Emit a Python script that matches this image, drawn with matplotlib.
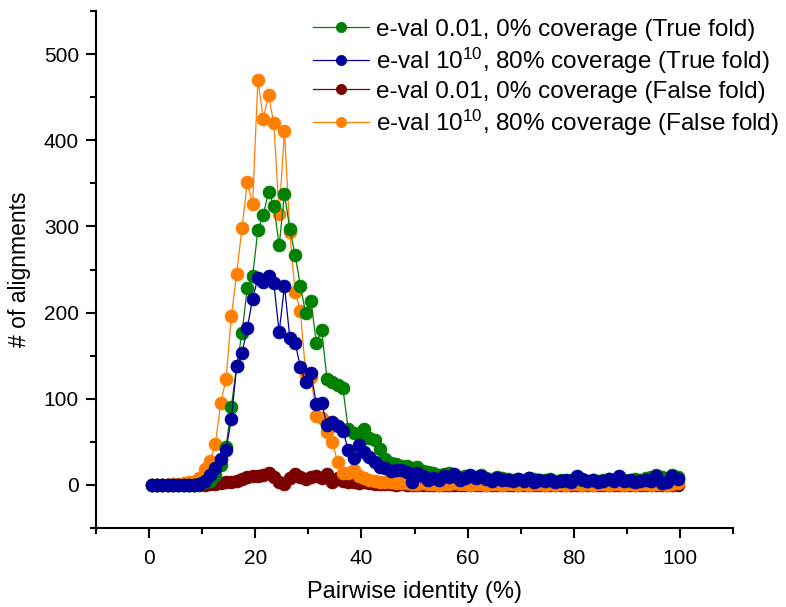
import numpy as np
import matplotlib
matplotlib.use('Agg')
import matplotlib.pyplot as plt
from matplotlib.ticker import FixedLocator

plt.rcParams['font.family'] = ['Liberation Sans', 'DejaVu Sans']
plt.rcParams['mathtext.default'] = 'regular'

# bin centres of pairwise identity (%)
identity = np.arange(100) + 0.5

true_e001 = [0, 0, 0, 0, 0, 0, 0, 0, 0, 1,
             3, 5, 12, 23, 44, 91, 138, 176, 229, 242,
             296, 313, 340, 324, 278, 338, 297, 267, 231, 199,
             213, 165, 180, 123, 120, 116, 112, 65, 60, 58,
             65, 55, 52, 42, 30, 25, 24, 22, 22, 20,
             21, 16, 15, 14, 12, 13, 14, 10, 9, 11,
             10, 9, 12, 8, 7, 9, 8, 7, 6, 7,
             6, 8, 7, 6, 6, 7, 5, 6, 5, 6,
             8, 6, 5, 6, 5, 6, 7, 6, 8, 6,
             5, 7, 6, 8, 9, 12, 9, 5, 12, 9]

true_e1010 = [0, 0, 0, 0, 0, 0, 0, 0, 0, 1,
              5, 12, 20, 30, 41, 77, 138, 153, 182, 216,
              240, 236, 242, 234, 177, 231, 171, 165, 137, 119,
              130, 94, 95, 70, 73, 68, 63, 41, 31, 46,
              38, 33, 27, 21, 20, 16, 17, 17, 15, 4,
              14, 10, 6, 8, 6, 10, 9, 13, 6, 8,
              12, 8, 10, 7, 5, 8, 6, 6, 5, 7,
              5, 8, 4, 6, 5, 6, 4, 5, 6, 4,
              10, 7, 5, 6, 4, 5, 7, 5, 10, 5,
              6, 4, 5, 6, 5, 10, 2, 4, 10, 7]

false_e001 = [0, 0, 0, 0, 0, 0, 0, 0, 0, 0,
              0, 1, 1, 2, 3, 4, 5, 7, 9, 10,
              11, 12, 14, 9, 3, 1, 8, 13, 9, 7,
              9, 10, 8, 13, 3, 8, 5, 3, 4, 2,
              3, 2, 1, 1, 1, 1, 0, 1, 0, 0,
              0, 0, 0, 0, 0, 0, 0, 0, 0, 0,
              0, 0, 0, 0, 0, 0, 0, 0, 0, 0,
              0, 0, 0, 0, 0, 0, 0, 0, 0, 0,
              0, 0, 0, 0, 0, 0, 0, 0, 0, 0,
              0, 0, 0, 0, 0, 0, 0, 0, 0, 0]

false_e1010 = [0, 0, 0, 0, 1, 1, 2, 3, 3, 8,
               19, 28, 48, 95, 123, 196, 245, 298, 351, 326,
               470, 425, 452, 420, 314, 411, 293, 224, 202, 128,
               125, 80, 78, 62, 50, 27, 14, 14, 17, 10,
               8, 6, 5, 4, 3, 3, 2, 2, 2, 1,
               1, 2, 1, 1, 0, 1, 1, 2, 1, 1,
               0, 1, 1, 0, 1, 1, 0, 1, 1, 0,
               1, 0, 1, 1, 0, 1, 0, 1, 0, 1,
               1, 0, 1, 0, 1, 1, 0, 1, 1, 0,
               1, 0, 1, 1, 0, 1, 1, 0, 1, 2]

labels = ['e-val 0.01, 0% coverage (True fold)',
          'e-val 10$^{10}$, 80% coverage (True fold)',
          'e-val 0.01, 0% coverage (False fold)',
          'e-val 10$^{10}$, 80% coverage (False fold)']

fig = plt.figure(figsize=(7.86, 6.07), dpi=100)
ax = fig.add_axes([0.122, 0.130, 0.811, 0.852])

mk = dict(marker='o', markersize=9.3, linewidth=0.9, markeredgewidth=0.5)
l3, = ax.plot(identity, false_e001, color='#7B0000', label=labels[2], zorder=2, **mk)
l4, = ax.plot(identity, false_e1010, color='#FF8000', label=labels[3], zorder=3, **mk)
l1, = ax.plot(identity, true_e001, color='#008000', label=labels[0], zorder=4, **mk)
l2, = ax.plot(identity, true_e1010, color='#00009C', label=labels[1], zorder=5, **mk)

ax.set_xlim(-10, 110)
ax.set_ylim(-50, 550)
ax.xaxis.set_major_locator(FixedLocator([0, 20, 40, 60, 80, 100]))
ax.xaxis.set_minor_locator(FixedLocator([-10, 10, 30, 50, 70, 90, 110]))
ax.yaxis.set_major_locator(FixedLocator([0, 100, 200, 300, 400, 500]))
ax.yaxis.set_minor_locator(FixedLocator([-50, 50, 150, 250, 350, 450, 550]))

for s in ['top', 'right']:
    ax.spines[s].set_visible(False)
for s in ['left', 'bottom']:
    ax.spines[s].set_linewidth(1.5)
ax.tick_params(which='major', direction='out', length=7.2, width=1.5, labelsize=15)
ax.tick_params(axis='x', which='major', pad=8)
ax.tick_params(axis='y', which='major', pad=5)
ax.tick_params(which='minor', direction='out', length=4.3, width=1.5)

ax.set_xlabel('Pairwise identity (%)', fontsize=17, labelpad=9)
ax.set_ylabel('# of alignments', fontsize=16.5, labelpad=9)

fig.legend(handles=[l1, l2, l3, l4], loc='upper left', bbox_to_anchor=(0.378, 0.995),
           frameon=False, fontsize=17.5, markerscale=0.8, handlelength=2.3,
           handletextpad=0.3, borderpad=0.15, labelspacing=0.2)

fig.savefig('out.png', dpi=100)
